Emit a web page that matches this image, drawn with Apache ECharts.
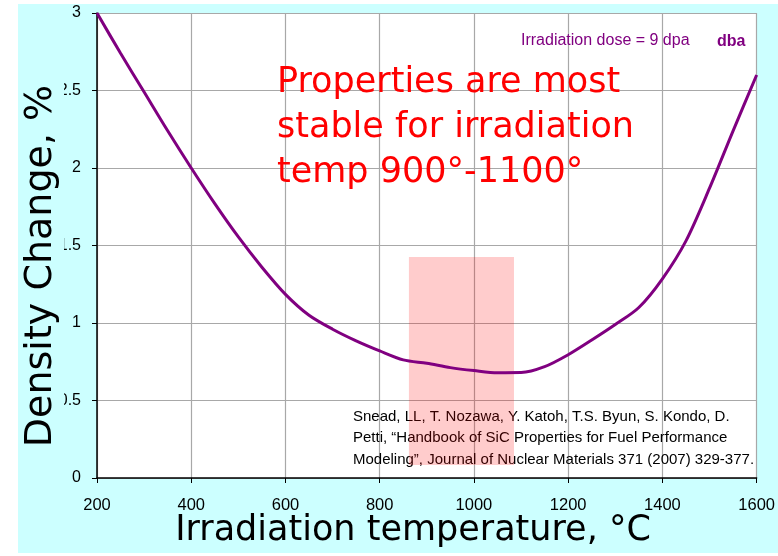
<!DOCTYPE html>
<html>
<head>
<meta charset="utf-8">
<script src="https://cdn.jsdelivr.net/npm/echarts@6/dist/echarts.min.js"></script>
<style>html,body{margin:0;padding:0;background:#fff;}#c{width:778px;height:556px;}</style>
</head>
<body>
<div id="c"></div>
<script>
// Irradiation temperature (°C)
const temps = [200,250,300,350,400,450,500,550,600,650,700,750,800,850,900,950,1000,1050,1100,1150,1200,1250,1300,1350,1400,1450,1500,1550,1600];
// Density change (%)
const density = [3.0,2.74,2.49,2.24,2.0,1.77,1.555,1.36,1.185,1.05,0.96,0.885,0.82,0.762,0.74,0.712,0.693,0.679,0.68,0.718,0.795,0.89,0.99,1.10,1.285,1.53,1.87,2.24,2.6];
// Stable region highlight [xFrom, xTo], [yFrom, yTo]
const stableX = [862, 1085];
const stableY = [0.084, 1.426];

const chart = echarts.init(document.getElementById('c'), null, {renderer:'canvas'});
const option = {
  backgroundColor: '#ffffff',
  animation: false,
  grid: {left: 97, right: 21, top: 13, bottom: 78, show: true, backgroundColor: '#ffffff', borderWidth: 0, z: 0},
  xAxis: {
    type: 'value', min: 200, max: 1600, interval: 200,
    axisLine: {show: true, lineStyle: {color: '#000', width: 1.5}},
    axisTick: {show: true, length: 5, lineStyle: {color: '#000'}},
    axisLabel: {color: '#000', fontSize: 16.5, fontFamily: 'Liberation Sans', margin: 19, formatter: v => String(v)},
    splitLine: {show: true, lineStyle: {color: '#a8a8a8', width: 1.2}}
  },
  yAxis: {
    type: 'value', min: 0, max: 3, interval: 0.5,
    axisLine: {show: true, lineStyle: {color: '#000', width: 1.5}},
    axisTick: {show: true, length: 5, lineStyle: {color: '#000'}},
    axisLabel: {color: '#000', fontSize: 16, fontFamily: 'Liberation Sans', margin: 16, formatter: v => String(v)},
    splitLine: {show: true, lineStyle: {color: '#a8a8a8', width: 1.2}}
  },
  series: [{
    type: 'line',
    data: temps.map((t, i) => [t, density[i]]),
    smooth: 0.3,
    showSymbol: false,
    lineStyle: {color: '#800080', width: 3},
    z: 5,
    markArea: {
      silent: true,
      itemStyle: {color: 'rgba(255,0,0,0.2)'},
      data: [[{xAxis: stableX[0], yAxis: stableY[0]}, {xAxis: stableX[1], yAxis: stableY[1]}]]
    }
  }],
  graphic: [
    {type: 'rect', z: -100, silent: true, shape: {x: 18, y: 4, width: 760, height: 549}, style: {fill: '#ccffff'}},
    {type: 'rect', z: 100, silent: true, shape: {x: 18, y: 30, width: 46, height: 440}, style: {fill: '#ccffff'}},
    {type: 'text', z: 101, silent: true, x: 41, y: 266, rotation: Math.PI/2,
      style: {text: 'Density Change, %', font: '38px "DejaVu Sans"', fill: '#000', align: 'center', verticalAlign: 'middle'}},
    {type: 'text', z: 101, silent: true, x: 413, y: 531,
      style: {text: 'Irradiation temperature, °C', font: '35px "DejaVu Sans"', fill: '#000', align: 'center', verticalAlign: 'middle'}},
    {type: 'text', z: 101, silent: true, x: 277, y: 60,
      style: {text: 'Properties are most\nstable for irradiation\ntemp 900°-1100°', font: '35px "DejaVu Sans"', lineHeight: 45, fill: '#ff0000', align: 'left', verticalAlign: 'top'}},
    {type: 'text', z: 101, silent: true, x: 521, y: 41,
      style: {text: 'Irradiation dose = 9 dpa', font: '16px "Liberation Sans"', fill: '#800080', align: 'left', verticalAlign: 'middle'}},
    {type: 'text', z: 101, silent: true, x: 717, y: 42,
      style: {text: 'dba', font: 'bold 16px "Liberation Sans"', fill: '#800080', align: 'left', verticalAlign: 'middle'}},
    {type: 'text', z: 1, silent: true, x: 353, y: 406,
      style: {text: 'Snead, LL, T. Nozawa, Y. Katoh, T.S. Byun, S. Kondo, D.\nPetti, \u201cHandbook of SiC Properties for Fuel Performance\nModeling\u201d, Journal of Nuclear Materials 371 (2007) 329-377.', font: '15px "Liberation Sans"', lineHeight: 21.5, fill: '#000', align: 'left', verticalAlign: 'top'}}
  ]
};
chart.setOption(option);
</script>
</body>
</html>
